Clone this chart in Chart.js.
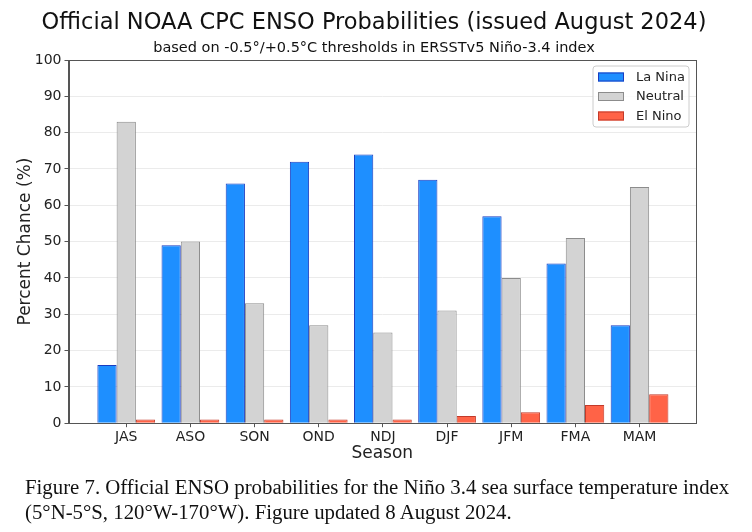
<!DOCTYPE html>
<html><head><meta charset="utf-8">
<script src="https://cdn.jsdelivr.net/npm/chart.js@4.4.1/dist/chart.umd.min.js"></script>
<style>
html,body{margin:0;padding:0;background:#fff;}
#wrap{position:relative;width:752px;height:532px;overflow:hidden;background:#fff;}
#c{position:absolute;left:0;top:0;}
.t{position:absolute;left:0;width:748px;text-align:center;font-family:'DejaVu Sans';color:#111;white-space:nowrap;}
#title{top:8px;font-size:22.5px;line-height:27px;}
#sub{top:38px;font-size:14.5px;line-height:18px;}
#cap{position:absolute;left:25px;top:474px;font-family:'Liberation Serif';font-size:20.8px;line-height:25px;color:#111;white-space:nowrap;}
</style></head>
<body>
<div id="wrap">
<canvas id="c" width="752" height="532"></canvas>
<div class="t" id="title">Official NOAA CPC ENSO Probabilities (issued August 2024)</div>
<div class="t" id="sub">based on -0.5°/+0.5°C thresholds in ERSSTv5 Niño-3.4 index</div>
<div id="cap">Figure 7. Official ENSO probabilities for the Niño 3.4 sea surface temperature index<br>(5°N-5°S, 120°W-170°W). Figure updated 8 August 2024.</div>
</div>
<script>
const seasons = ['JAS','ASO','SON','OND','NDJ','DJF','JFM','FMA','MAM'];
const laNina  = [16, 49, 66, 72, 74, 67, 57, 44, 27];
const neutral = [83, 50, 33, 27, 25, 31, 40, 51, 65];
const elNino  = [1, 1, 1, 1, 1, 2, 3, 5, 8];
const yTicks  = [0,10,20,30,40,50,60,70,80,90,100];

Chart.defaults.font.family = 'DejaVu Sans';
Chart.defaults.color = '#222';

const toPts = arr => arr.map((v,i)=>({x:i, y:v}));

const frame = {
  id:'frame',
  afterDatasetsDraw(chart){
    const {ctx, chartArea:a} = chart;
    ctx.save();
    ctx.strokeStyle = '#555'; ctx.lineWidth = 1;
    ctx.strokeRect(Math.round(a.left)+0.5, Math.round(a.top)+0.5, Math.round(a.right-a.left)-1, Math.round(a.bottom-a.top));
    // legend
    const bx = 593, by = 66, bw = 96, bh = 61, r = 3;
    ctx.fillStyle = 'rgba(255,255,255,0.85)';
    ctx.strokeStyle = '#cccccc';
    ctx.beginPath();
    ctx.moveTo(bx+r,by); ctx.lineTo(bx+bw-r,by); ctx.arcTo(bx+bw,by,bx+bw,by+r,r);
    ctx.lineTo(bx+bw,by+bh-r); ctx.arcTo(bx+bw,by+bh,bx+bw-r,by+bh,r);
    ctx.lineTo(bx+r,by+bh); ctx.arcTo(bx,by+bh,bx,by+bh-r,r);
    ctx.lineTo(bx,by+r); ctx.arcTo(bx,by,bx+r,by,r); ctx.closePath();
    ctx.fill(); ctx.stroke();
    ctx.font = '13px "DejaVu Sans"'; ctx.textBaseline = 'middle'; ctx.textAlign = 'left';
    chart.data.datasets.forEach((ds,i)=>{
      const cy = 77 + i*19.5;
      ctx.fillStyle = ds.backgroundColor; ctx.strokeStyle = ds.borderColor; ctx.lineWidth = 1;
      ctx.fillRect(598, cy-4.5, 26, 9); ctx.strokeRect(598.5, cy-4, 25, 8);
      ctx.fillStyle = '#222'; ctx.fillText(ds.label, 636, cy+0.5);
    });
    // x-axis title
    ctx.font = '17px "DejaVu Sans"'; ctx.textAlign = 'center'; ctx.fillStyle = '#222';
    ctx.fillText('Season', (a.left + a.right)/2, 454);
    ctx.restore();
  }
};

new Chart(document.getElementById('c'), {
  type:'bar',
  data:{
    datasets:[
      {label:'La Nina', data:toPts(laNina), backgroundColor:'#1e8fff', borderColor:'#1a3cc0', borderWidth:1},
      {label:'Neutral', data:toPts(neutral), backgroundColor:'#d3d3d3', borderColor:'#8c8c8c', borderWidth:1},
      {label:'El Nino', data:toPts(elNino), backgroundColor:'#ff6347', borderColor:'#c23a2a', borderWidth:1}
    ]
  },
  options:{
    responsive:false, animation:false,
    layout:{padding:{top:60, left:0, right:56, bottom:84}},
    categoryPercentage:0.9, barPercentage:1.0,
    plugins:{legend:{display:false}, title:{display:false}, tooltip:{enabled:false}},
    scales:{
      x:{
        type:'linear', min:-0.9, max:8.88, offset:false,
        afterBuildTicks: s => { s.ticks = seasons.map((_,i)=>({value:i})); },
        ticks:{callback:v=>seasons[v] ?? '', font:{size:14}, color:'#222', padding:2, maxRotation:0, autoSkip:false},
        grid:{display:true, drawOnChartArea:false, drawTicks:true, tickLength:4, tickColor:'#555', offset:false},
        border:{color:'#555'},
        title:{display:false}
      },
      y:{
        min:0, max:100,
        afterBuildTicks: s => { s.ticks = yTicks.map(v=>({value:v})); },
        afterFit: s => { s.width = 68.5; },
        ticks:{font:{size:14}, color:'#222', padding:3},
        grid:{color:'#ebebeb', tickColor:'#555', tickLength:4},
        border:{color:'#555'},
        title:{display:true, text:'Percent Chance (%)', font:{size:17}, color:'#222', padding:{top:15,bottom:0}}
      }
    }
  },
  plugins:[frame]
});
</script>
</body></html>
